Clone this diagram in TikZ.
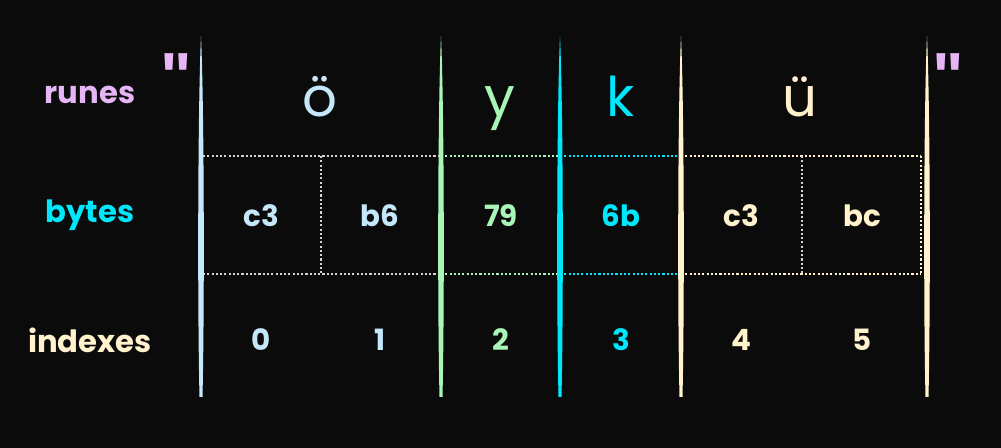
\documentclass[tikz,border=0pt]{standalone}
\usepackage{fontspec}
\setmainfont{Poppins}
\newfontfamily\quotefont{Liberation Sans}
\definecolor{bg}{HTML}{0B0B0B}
\definecolor{cblue}{HTML}{C4E8FA}
\definecolor{cgreen}{HTML}{A9F5B5}
\definecolor{ccyan}{HTML}{00E6FA}
\definecolor{ccream}{HTML}{FFF2CC}
\definecolor{cpink}{HTML}{E5B5F5}
\definecolor{cgray}{HTML}{D2D2D2}
\tikzset{
  rowlabel/.style={font=\fontsize{23}{27}\selectfont\bfseries, anchor=center},
  runetext/.style={font=\fontsize{41}{48}\selectfont, anchor=base},
  bytetext/.style={font=\fontsize{22}{26}\selectfont\bfseries, anchor=center},
  quotetext/.style={font=\quotefont\fontsize{50}{56}\selectfont\bfseries, text=cpink, anchor=center},
  dotline/.style={line width=1.8pt, dash pattern=on 1.6pt off 1.6pt},
}
\newcommand{\chalkline}[4]{%
  \fill[#2] (#1,#3) .. controls (#1+3.2,#3+70) and (#1+3.6,#4-90) .. (#1+1.5,#4)
    -- (#1-1.5,#4) .. controls (#1-3.6,#4-90) and (#1-3.2,#3+70) .. (#1,#3) -- cycle;}
\begin{document}
\begin{tikzpicture}[x=0.75pt,y=-0.75pt]
\fill[bg] (0,0) rectangle (1001,448);
\useasboundingbox (0,0) rectangle (1001,448);

% dotted byte grid
\draw[dotline,cgray] (203,156) -- (441,156);
\draw[dotline,cgreen] (441,156) -- (560,156);
\draw[dotline,ccyan] (560,156) -- (681,156);
\draw[dotline,ccream] (681,156) -- (921,156);
\draw[dotline,cgray] (203,274) -- (441,274);
\draw[dotline,cgreen] (441,274) -- (560,274);
\draw[dotline,ccyan] (560,274) -- (681,274);
\draw[dotline,ccream] (681,274) -- (921,274);
\draw[dotline,cgray] (321,156) -- (321,274);
\draw[dotline,cgray] (802,156) -- (802,274);
\draw[dotline,ccream] (921,156) -- (921,274);

% chalk separators
\chalkline{201}{cblue}{36}{397}
\chalkline{441}{cgreen}{36}{397}
\chalkline{560}{ccyan}{36}{397}
\chalkline{681}{ccream}{36}{397}
\chalkline{927}{ccream}{36}{397}

% row labels
\node[rowlabel,text=cpink] (lrunes) at (90,95) {runes};
\node[rowlabel,text=ccyan] (lbytes) at (90,215) {bytes};
\node[rowlabel,text=ccream] (lindex) at (90,340) {indexes};

% quotes
\node[quotetext] (qopen) at (176,77) {\char"22};
\node[quotetext] (qclose) at (948,77) {\char"22};

% runes
\node[runetext,text=cblue] (r1) at (320,117) {ö};
\node[runetext,text=cgreen] (r2) at (500,117) {y};
\node[runetext,text=ccyan] (r3) at (621,117) {k};
\node[runetext,text=ccream] (r4) at (800,117) {ü};

% bytes
\node[bytetext,text=cblue] (b0) at (261,216) {c3};
\node[bytetext,text=cblue] (b1) at (380,216) {b6};
\node[bytetext,text=cgreen] (b2) at (501,216) {79};
\node[bytetext,text=ccyan] (b3) at (621,216) {6b};
\node[bytetext,text=ccream] (b4) at (741,216) {c3};
\node[bytetext,text=ccream] (b5) at (862,216) {bc};

% indexes
\node[bytetext,text=cblue] (i0) at (261,340) {0};
\node[bytetext,text=cblue] (i1) at (380,340) {1};
\node[bytetext,text=cgreen] (i2) at (501,340) {2};
\node[bytetext,text=ccyan] (i3) at (621,340) {3};
\node[bytetext,text=ccream] (i4) at (741,340) {4};
\node[bytetext,text=ccream] (i5) at (862,340) {5};
\end{tikzpicture}
\end{document}
